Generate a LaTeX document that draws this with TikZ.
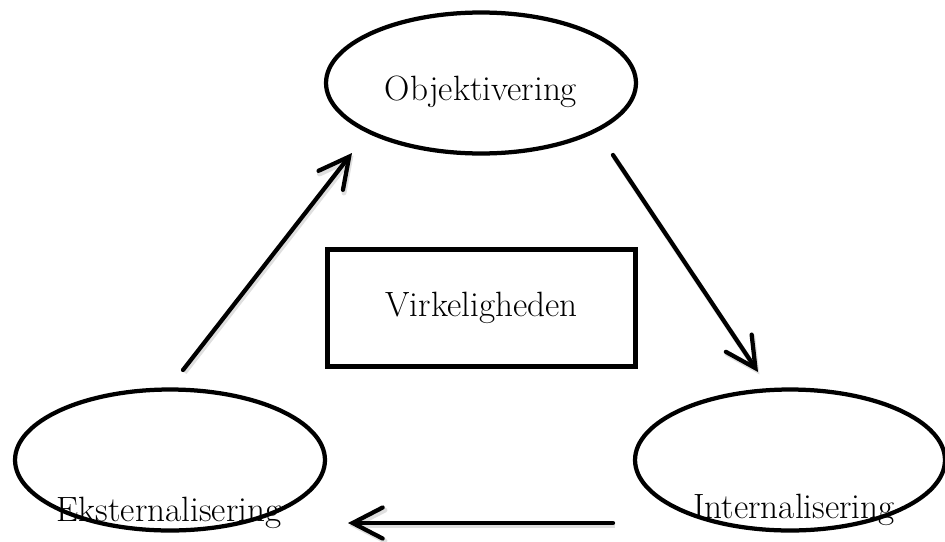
\documentclass[tikz,border=0pt]{standalone}
\usetikzlibrary{shapes.geometric,arrows.meta}

\tikzset{
  stage/.style={draw, ellipse, line width=0.085cm,
    minimum width=6.2cm, minimum height=2.82cm},
  word/.style={anchor=base, font=\fontsize{20}{24}\selectfont},
  flow/.style={line width=0.085cm, line cap=round,
    -{Straight Barb[length=0.6cm, width=0.62cm, line cap=round]},
    preaction={draw, gray!25, line width=0.1cm,
      transform canvas={shift={(0.03cm,-0.05cm)}}}},
}

\begin{document}
\begin{tikzpicture}[x=0.02cm, y=-0.02cm]
  \useasboundingbox (0,0) rectangle (945,541);
  % the three stages
  \node[stage] (obj) at (481,83) {};
  \node[stage] (eks) at (170,460) {};
  \node[stage] (int) at (790,460) {};
  \node[word] (objtxt) at (481,100) {Objektivering};
  \node[word] (ekstxt) at (169,521) {Eksternalisering};
  \node[word] (inttxt) at (794,518) {Internalisering};
  % reality in the middle
  \node[draw, line width=0.1cm, minimum width=6.18cm, minimum height=2.34cm,
    font=\fontsize{20}{24}\selectfont] (virk) at (481.5,308) {Virkeligheden};
  % arrow ends
  \coordinate (eksout) at (183,370);
  \coordinate (objin) at (352,153);
  \coordinate (objout) at (613,155);
  \coordinate (intin) at (758,372);
  \coordinate (intout) at (613,523);
  \coordinate (eksin) at (348,523);
  \draw[flow] (eksout) -- (objin);
  \draw[flow] (objout) -- (intin);
  \draw[flow] (intout) -- (eksin);
\end{tikzpicture}
\end{document}
